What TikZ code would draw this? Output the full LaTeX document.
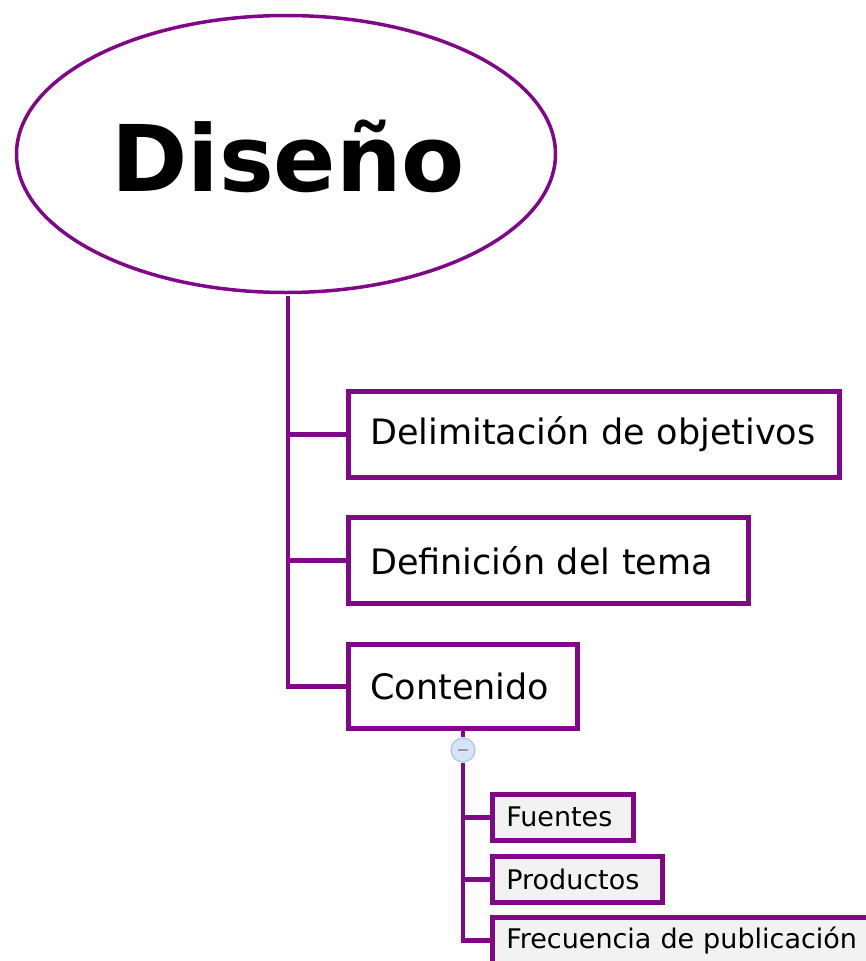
\documentclass[tikz,border=0pt]{standalone}
\usepackage{fontspec}
\usetikzlibrary{shapes.geometric}
\setmainfont{DejaVu Sans}
\definecolor{mmpurple}{RGB}{128,8,136}
\definecolor{subfill}{RGB}{242,242,242}
\definecolor{btnfill}{RGB}{214,228,250}
\definecolor{btnline}{RGB}{170,195,238}
\begin{document}
\begin{tikzpicture}[x=1pt,y=-1pt,
  conn/.style={draw=mmpurple,line width=4.5pt},
  mainbox/.style={draw=mmpurple,line width=4.5pt,fill=white,anchor=north west,
    inner xsep=22pt,inner ysep=0pt,align=left,font=\fontsize{35}{40}\selectfont},
  subbox/.style={draw=mmpurple,line width=4.5pt,fill=subfill,anchor=north west,
    inner xsep=14pt,inner ysep=0pt,align=left,font=\fontsize{27}{32}\selectfont}]
\useasboundingbox (0,0) rectangle (865,961);
\node[ellipse,draw=mmpurple,line width=3.5pt,minimum width=539pt,minimum height=277pt,inner sep=0pt]
  (root) at (286,154) {};
\node[font=\bfseries\fontsize{92}{100}\selectfont] (roottext) at (288,156) {Diseño};
\node[mainbox,text width=447pt,minimum height=86pt] (a) at (346,389) {Delimitación de objetivos};
\node[mainbox,text width=356pt,minimum height=86pt] (b) at (346,515) {Definición del tema};
\node[mainbox,text width=185pt,minimum height=84pt] (c) at (346,642) {Contenido};
\node[subbox,text width=113pt,minimum height=46pt] (d) at (490,792) {Fuentes};
\node[subbox,text width=142pt,minimum height=46pt] (e) at (490,854) {Productos};
\node[subbox,text width=400pt,minimum height=46pt] (f) at (490,915) {Frecuencia de publicación};
\coordinate (rb) at (288,296);
\draw[conn] (rb) -- (c.west -| rb) -- (c.west);
\draw[conn] (a.west -| rb) -- (a.west);
\draw[conn] (b.west -| rb) -- (b.west);
\node[circle,draw=btnline,fill=btnfill,line width=1.2pt,minimum size=24pt,inner sep=0pt] (btn) at (463,750) {};
\draw[conn] (c.south -| btn) -- (btn.north);
\draw[conn] (btn.south) -- (f.west -| btn) -- (f.west);
\draw[conn] (d.west -| btn) -- (d.west);
\draw[conn] (e.west -| btn) -- (e.west);
\draw[line width=1.3pt,draw=black!40] ([xshift=-5pt]btn.center) -- ([xshift=5pt]btn.center);
\end{tikzpicture}
\end{document}
